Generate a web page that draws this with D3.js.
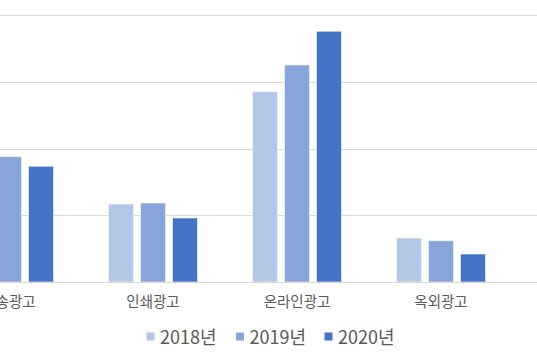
<!DOCTYPE html>
<html>
<head>
<meta charset="utf-8">
<script src="https://cdn.jsdelivr.net/npm/d3@7"></script>
<style>
  html, body { margin: 0; padding: 0; background: #fff; }
  svg { display: block; }
</style>
</head>
<body>
<svg id="chart" width="537" height="360"></svg>
<script>
const categories = ["방송광고", "인쇄광고", "온라인광고", "옥외광고"];
const years = ["2018년", "2019년", "2020년"];
const values2018 = [39600, 23400, 57100, 13200];
const values2019 = [37600, 23700, 65100, 12400];
const values2020 = [34700, 19200, 75200, 8400];
const yTicks = [0, 20000, 40000, 60000, 80000];
const colors = ["#B4C7E7", "#87A5DA", "#4472C4"];

const series = [values2018, values2019, values2020];
const data = categories.map((c, i) => ({
  category: c,
  values: years.map((y, j) => ({ year: y, value: series[j][i], idx: j }))
}));

const svg = d3.select("#chart");
const W = 537;

const y = d3.scaleLinear().domain([0, 80000]).range([282, 15.3]);
const x0 = d3.scaleBand().domain(categories).range([-63, 513]).paddingInner(0).paddingOuter(0);
const x1 = d3.scaleBand().domain(years).range([0, x0.bandwidth()])
  .paddingInner(0.21875).paddingOuter(0.859);

// gridlines
svg.append("g").selectAll("line")
  .data(yTicks.filter(t => t > 0))
  .join("line")
  .attr("x1", 0).attr("x2", W)
  .attr("y1", d => Math.round(y(d)) + 0.5)
  .attr("y2", d => Math.round(y(d)) + 0.5)
  .attr("stroke", "#D9D9D9").attr("stroke-width", 1);

// bars
const groups = svg.append("g").selectAll("g")
  .data(data).join("g")
  .attr("transform", d => `translate(${x0(d.category)},0)`);

groups.selectAll("rect")
  .data(d => d.values).join("rect")
  .attr("x", d => x1(d.year))
  .attr("width", x1.bandwidth())
  .attr("y", d => y(d.value))
  .attr("height", d => y(0) - y(d.value))
  .attr("fill", d => colors[d.idx])
  .attr("stroke", "#ffffff").attr("stroke-opacity", 0.55).attr("stroke-width", 1);

// baseline
svg.append("line")
  .attr("x1", 0).attr("x2", W)
  .attr("y1", Math.round(y(0)) + 0.5).attr("y2", Math.round(y(0)) + 0.5)
  .attr("stroke", "#D9D9D9").attr("stroke-width", 1);

// category labels
svg.append("g").selectAll("text")
  .data(categories).join("text")
  .attr("x", d => x0(d) + x0.bandwidth() / 2)
  .attr("y", 307)
  .attr("text-anchor", "middle")
  .attr("font-family", "'Noto Sans CJK KR', 'Noto Sans', sans-serif")
  .attr("font-size", 14.5)
  .attr("fill", "#595959")
  .text(d => d);

// legend
const legendX = [146.5, 236, 324.5];
const lg = svg.append("g").selectAll("g")
  .data(years).join("g")
  .attr("transform", (d, i) => `translate(${legendX[i]},0)`);
lg.append("rect")
  .attr("x", 0).attr("y", 332.5).attr("width", 8).attr("height", 8)
  .attr("fill", (d, i) => colors[i]);
lg.append("text")
  .attr("x", 13.5).attr("y", 344)
  .attr("font-family", "'Noto Sans CJK KR', 'Noto Sans', sans-serif")
  .attr("font-size", 18)
  .attr("fill", "#595959")
  .text(d => d);
</script>
</body>
</html>
